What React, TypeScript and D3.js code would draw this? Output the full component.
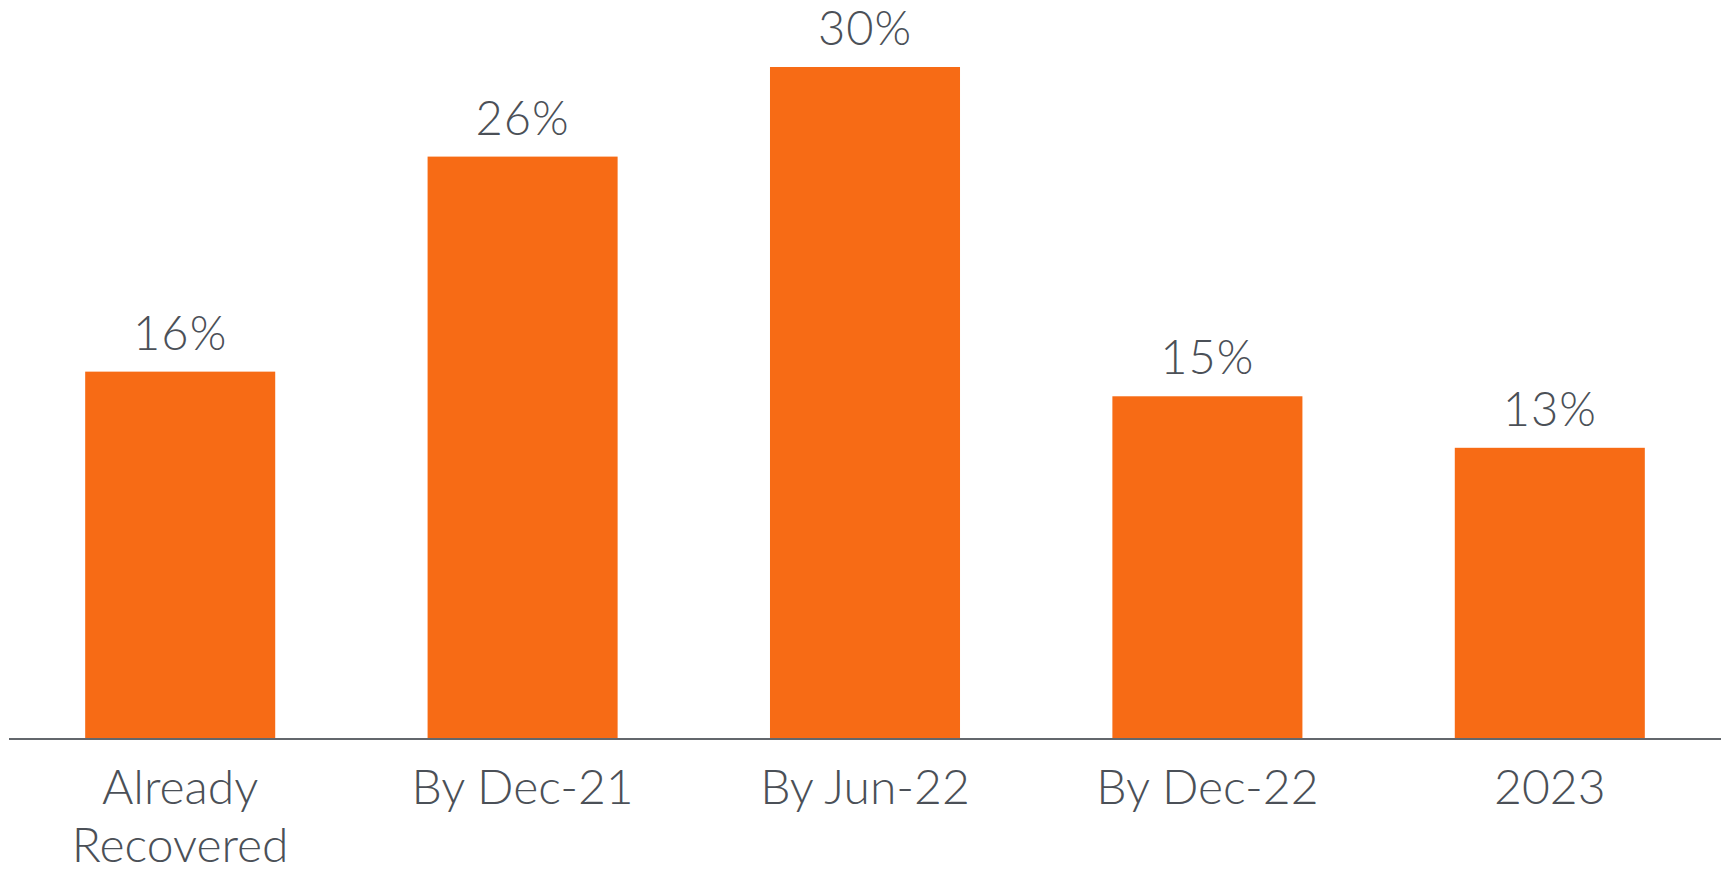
import React from "react";
import * as d3 from "d3";

const categories: string[][] = [["Already", "Recovered"], ["By Dec-21"], ["By Jun-22"], ["By Dec-22"], ["2023"]];
const values: number[] = [16.4, 26, 30, 15.3, 13];
const valueLabels: string[] = ["16%", "26%", "30%", "15%", "13%"];

const W = 1723;
const H = 870;

export default function App() {
  const x = d3
    .scaleBand<number>()
    .domain(d3.range(categories.length))
    .range([9, 1721])
    .paddingInner(0.445)
    .paddingOuter(0.2225);
  const y = d3.scaleLinear().domain([0, 30]).range([739, 67]);
  const textColor = "#4b5057";
  const font = "Lato, 'Noto Sans', sans-serif";

  return (
    <svg width={W} height={H} style={{ position: "absolute", left: 0, top: 0, background: "#fff" }}>
      {values.map((v, i) => (
        <rect key={i} x={x(i)} y={y(v)} width={x.bandwidth()} height={y(0) - y(v)} fill="#f76b15" />
      ))}
      <line x1={9} x2={1721} y1={y(0)} y2={y(0)} stroke="#63676c" strokeWidth={2} />
      {values.map((v, i) => (
        <text
          key={"v" + i}
          x={(x(i) as number) + x.bandwidth() / 2}
          y={y(v) - 22}
          textAnchor="middle"
          fontFamily={font}
          fontWeight={300}
          fontSize={47}
          letterSpacing={1}
          fill={textColor}
        >
          {valueLabels[i]}
        </text>
      ))}
      {categories.map((lines, i) => (
        <text
          key={"c" + i}
          x={(x(i) as number) + x.bandwidth() / 2}
          textAnchor="middle"
          fontFamily={font}
          fontWeight={300}
          fontSize={48}
          fill={textColor}
        >
          {lines.map((l, j) => (
            <tspan key={j} x={(x(i) as number) + x.bandwidth() / 2} y={804 + j * 58}>
              {l}
            </tspan>
          ))}
        </text>
      ))}
    </svg>
  );
}
